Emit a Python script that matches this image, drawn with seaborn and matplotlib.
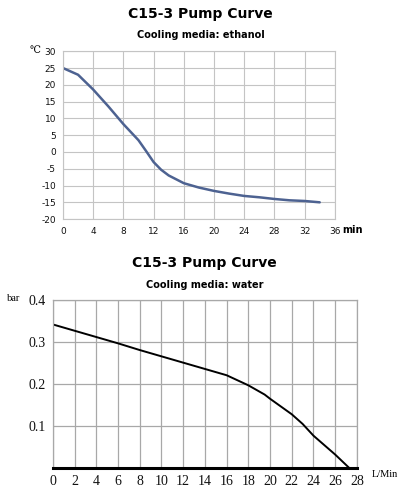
import pandas as pd
import numpy as np
import matplotlib
matplotlib.use('Agg')
import matplotlib.pyplot as plt
import seaborn as sns

# ==============================================
# Data
# ==============================================
eth_time = [0, 2, 4, 6, 8, 10, 11, 12, 13, 14, 16, 18, 20, 22, 24, 26, 28, 30, 32, 34]
eth_temp = [25, 23, 18.6, 13.6, 8.3, 3.5, 0.3, -3.0, -5.3, -7.0, -9.3, -10.6, -11.6, -12.4, -13.1, -13.5, -14.0, -14.4, -14.6, -15.0]

water_flow = [0, 2, 4, 6, 8, 10, 12, 14, 16, 18, 19.5, 20, 22, 23, 24, 26, 27.3]
water_bar = [0.342, 0.327, 0.312, 0.297, 0.281, 0.266, 0.251, 0.236, 0.221, 0.197, 0.175, 0.165, 0.128, 0.105, 0.077, 0.032, 0.0]

eth_xticks = list(range(0, 37, 4))
eth_yticks = list(range(-20, 31, 5))
water_xticks = list(range(0, 29, 2))
water_yticks = [0.1, 0.2, 0.3, 0.4]

df_eth = pd.DataFrame({'time': eth_time, 'temp': eth_temp})
df_water = pd.DataFrame({'flow': water_flow, 'bar': water_bar})

sns.set_style('white')
plt.rcParams['font.family'] = ['DejaVu Sans']
plt.rcParams['axes.unicode_minus'] = False
plt.rcParams['text.color'] = 'black'

fig = plt.figure(figsize=(4.01, 4.88), dpi=100)

# ==============================================
# Top chart: ethanol
# ==============================================
ax1 = fig.add_axes([0.157, 0.551, 0.678, 0.344])
sns.lineplot(data=df_eth, x='time', y='temp', ax=ax1, color='#4d6291', linewidth=1.8)
ax1.set_xlim(0, 36)
ax1.set_ylim(-20, 30)
ax1.set_xticks(eth_xticks)
ax1.set_yticks(eth_yticks)
ax1.grid(True, color='#c4c4c4', linewidth=0.8)
for s in ax1.spines.values():
    s.set_color('#c4c4c4')
    s.set_linewidth(0.8)
ax1.tick_params(axis='x', length=0, labelsize=6.5, pad=6, colors='#111111')
ax1.tick_params(axis='y', length=0, labelsize=6.5, pad=5, colors='#111111')
ax1.set_xlabel('')
ax1.set_ylabel('')
fig.text(0.5, 0.971, 'C15-3 Pump Curve', ha='center', va='center', fontsize=10, fontweight='bold')
fig.text(0.5, 0.928, 'Cooling media: ethanol', ha='center', va='center', fontsize=7, fontweight='bold')
fig.text(0.087, 0.897, '℃', ha='center', va='center', fontsize=7, family=['DejaVu Serif'])
fig.text(0.88, 0.528, 'min', ha='center', va='center', fontsize=7, fontweight='bold')

# ==============================================
# Bottom chart: water
# ==============================================
ax2 = fig.add_axes([0.132, 0.041, 0.758, 0.344])
sns.lineplot(data=df_water, x='flow', y='bar', ax=ax2, color='black', linewidth=1.4)
ax2.set_xlim(0, 28)
ax2.set_ylim(0, 0.4)
ax2.set_xticks(water_xticks)
ax2.set_yticks(water_yticks)
ax2.set_yticklabels([f'{v:.1f}' for v in water_yticks])
ax2.grid(True, color='#a8a8a8', linewidth=0.9)
for s in ax2.spines.values():
    s.set_color('#a8a8a8')
    s.set_linewidth(0.9)
ax2.spines['bottom'].set_color('black')
ax2.spines['bottom'].set_linewidth(2.2)
ax2.tick_params(length=0, labelsize=10, pad=5, colors='#111111')
for lbl in ax2.get_xticklabels() + ax2.get_yticklabels():
    lbl.set_family(['Liberation Serif'])
ax2.set_xlabel('')
ax2.set_ylabel('')
fig.text(0.51, 0.461, 'C15-3 Pump Curve', ha='center', va='center', fontsize=10, fontweight='bold')
fig.text(0.51, 0.416, 'Cooling media: water', ha='center', va='center', fontsize=7, fontweight='bold')
fig.text(0.035, 0.389, 'bar', ha='center', va='center', fontsize=7.5, family=['Liberation Serif'])
fig.text(0.961, 0.028, 'L/Min', ha='center', va='center', fontsize=7.5, family=['Liberation Serif'])

fig.savefig('out.png', dpi=100)
